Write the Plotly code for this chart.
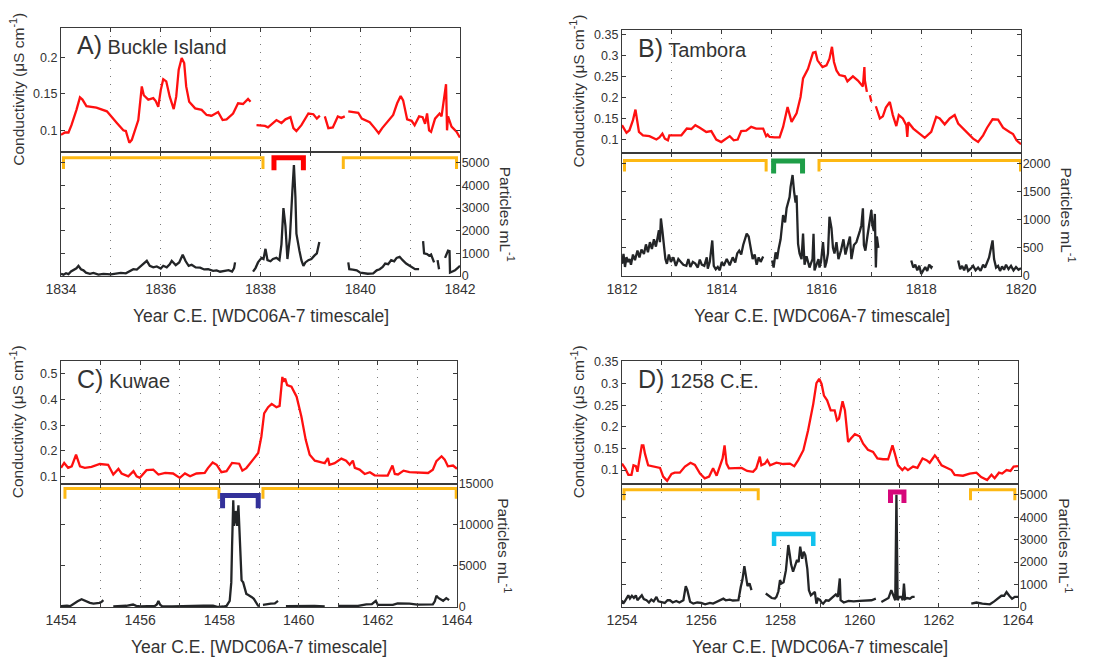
import plotly.graph_objects as go

# the page body adds an 8px margin; the figure is sized to fill the rest of the window
PAGE_OFF = 8
W, H = 1098 - PAGE_OFF, 660 - PAGE_OFF

# ---------------- DATA ----------------
# Panel A: Buckle Island
a_cond_year = [1834.0, 1834.08, 1834.15, 1834.21, 1834.31, 1834.38, 1834.43, 1834.51, 1834.71, 1834.92,
               1835.12, 1835.25, 1835.3, 1835.37, 1835.42, 1835.5, 1835.55, 1835.62, 1835.66, 1835.75,
               1835.85, 1835.9, 1835.95, 1836.0, 1836.05, 1836.11, 1836.18, 1836.26, 1836.31, 1836.36,
               1836.42, 1836.47, 1836.51, 1836.57, 1836.69, 1836.82, 1836.92, 1837.02, 1837.09, 1837.15,
               1837.24, 1837.32, 1837.45, 1837.55, 1837.65, 1837.75, 1837.8, 1837.86, 1837.92, 1838.09,
               1838.15, 1838.25, 1838.32, 1838.42, 1838.5, 1838.6, 1838.66, 1838.72, 1838.82, 1838.96,
               1839.06, 1839.13, 1839.19, 1839.24, 1839.29, 1839.36, 1839.45, 1839.49, 1839.55, 1839.62,
               1839.69, 1839.72, 1839.76, 1839.96, 1840.03, 1840.19, 1840.29, 1840.37, 1840.44, 1840.53,
               1840.66, 1840.74, 1840.81, 1840.86, 1840.94, 1841.03, 1841.09, 1841.18, 1841.25, 1841.3,
               1841.34, 1841.38, 1841.42, 1841.5, 1841.59, 1841.63, 1841.68, 1841.72, 1841.74, 1841.76,
               1841.83, 1841.93, 1842.0]
a_cond_val = [0.094, 0.097, 0.097, 0.107, 0.128, 0.145, 0.142, 0.133, 0.131, 0.126,
              0.110, 0.100, 0.099, 0.083, 0.087, 0.105, 0.114, 0.160, 0.148, 0.142,
              0.144, 0.140, 0.132, 0.155, 0.170, 0.167, 0.146, 0.129, 0.146, 0.183,
              0.199, 0.192, 0.160, 0.139, 0.130, 0.128, 0.121, 0.120, 0.123, 0.125,
              0.114, 0.115, 0.123, 0.137, 0.136, 0.143, 0.139, None, 0.107, 0.106,
              0.104, 0.110, 0.114, 0.110, 0.115, 0.118, 0.103, 0.099, 0.107, 0.123,
              0.122, 0.116, 0.120, None, 0.119, 0.103, 0.104, 0.111, 0.119, 0.117,
              0.119, None, 0.126, 0.124, 0.116, 0.111, 0.103, 0.096, 0.103, 0.111,
              0.121, 0.137, 0.147, 0.141, 0.115, 0.113, 0.107, 0.119, 0.118, 0.109,
              0.123, 0.100, 0.098, 0.116, 0.123, 0.119, 0.142, 0.163, 0.100, 0.119,
              0.105, 0.098, 0.090]
a_part_year = [1834.0, 1834.05, 1834.1, 1834.15, 1834.2, 1834.25, 1834.31, 1834.35, 1834.4, 1834.45,
               1834.5, 1834.58, 1834.65, 1834.75, 1834.85, 1835.0, 1835.1, 1835.2, 1835.3, 1835.38,
               1835.45, 1835.52, 1835.58, 1835.65, 1835.72, 1835.78, 1835.85, 1835.92, 1836.0, 1836.05,
               1836.12, 1836.18, 1836.22, 1836.3, 1836.37, 1836.44, 1836.5, 1836.56, 1836.62, 1836.7,
               1836.79, 1836.87, 1836.95, 1837.05, 1837.12, 1837.19, 1837.28, 1837.36, 1837.43, 1837.47,
               1837.49, 1837.52, 1837.85, 1837.9, 1837.95, 1838.02, 1838.06, 1838.1, 1838.14, 1838.2,
               1838.25, 1838.32, 1838.38, 1838.42, 1838.46, 1838.5, 1838.54, 1838.59, 1838.64, 1838.67,
               1838.7, 1838.72, 1838.78, 1838.82, 1838.86, 1838.9, 1838.96, 1839.02, 1839.08, 1839.13,
               1839.18, 1839.2, 1839.76, 1839.78, 1839.85, 1839.93, 1840.0, 1840.06, 1840.15, 1840.26,
               1840.33, 1840.39, 1840.45, 1840.5, 1840.56, 1840.62, 1840.68, 1840.73, 1840.79, 1840.85,
               1840.92, 1840.99, 1841.05, 1841.1, 1841.18, 1841.22, 1841.26, 1841.28, 1841.34, 1841.38,
               1841.42, 1841.48, 1841.5, 1841.55, 1841.58, 1841.62, 1841.7, 1841.76, 1841.79, 1841.8,
               1841.85, 1841.9, 1841.95, 1842.0]
a_part_val = [100, 60, 120, 80, 200, 250, 340, 450, 300, 250,
              150, 100, 140, 60, 90, 75, 110, 140, 120, 220,
              300, 280, 400, 500, 670, 450, 380, 420, 330, 450,
              380, 520, 670, 480, 600, 940, 650, 450, 500, 380,
              370, 290, 300, 230, 250, 190, 220, 260, 200, 350,
              600, None, 190, 350, 600, 800, 750, 1200, 700, 650,
              750, 800, 700, 1400, 3000, 2200, 750, 1700, 3800, 4900,
              3500, 1870, 1120, 700, 450, 600, 700, 750, 900, 1000,
              1500, None, 600, 300, 280, 250, 150, 140, 100, 120,
              250, 300, 400, 550, 520, 700, 650, 800, 850, 700,
              550, 450, 350, 300, 300, None, 1540, 1000, 970, 900,
              950, 600, None, 700, 300, None, 800, 1120, 1100, 150,
              200, 250, 350, 450]
a_br_start = [1834.05, 1838.27, 1839.66]
a_br_end = [1838.05, 1838.86, 1841.93]
a_br_top = [5225, 5225, 5225]
a_br_base = [4730, 4670, 4730]

# Panel B: Tambora
b_cond_year = [1812.0, 1812.09, 1812.15, 1812.22, 1812.27, 1812.3, 1812.34, 1812.42, 1812.55, 1812.69,
               1812.75, 1812.81, 1812.86, 1812.92, 1812.95, 1813.19, 1813.3, 1813.39, 1813.47, 1813.56,
               1813.69, 1813.79, 1813.89, 1813.99, 1814.16, 1814.24, 1814.32, 1814.39, 1814.49, 1814.59,
               1814.69, 1814.83, 1814.89, 1814.92, 1814.96, 1815.06, 1815.16, 1815.23, 1815.32, 1815.4,
               1815.5, 1815.58, 1815.63, 1815.73, 1815.83, 1815.88, 1815.92, 1816.02, 1816.1, 1816.16,
               1816.21, 1816.25, 1816.3, 1816.36, 1816.47, 1816.52, 1816.63, 1816.73, 1816.83, 1816.86,
               1816.87, 1816.91, 1816.94, 1816.97, 1817.0, 1817.05, 1817.09, 1817.17, 1817.23, 1817.29,
               1817.37, 1817.43, 1817.5, 1817.55, 1817.63, 1817.7, 1817.72, 1817.74, 1817.84, 1817.97,
               1818.07, 1818.2, 1818.3, 1818.37, 1818.47, 1818.57, 1818.67, 1818.74, 1818.9, 1819.04,
               1819.14, 1819.24, 1819.32, 1819.43, 1819.54, 1819.64, 1819.77, 1819.84, 1819.91, 1820.0]
b_cond_val = [0.134, 0.116, 0.122, 0.146, 0.171, 0.146, 0.118, 0.110, 0.108, 0.100,
              0.105, 0.114, 0.102, 0.098, 0.110, 0.110, 0.126, 0.125, 0.134, 0.128,
              0.118, 0.120, 0.100, 0.094, 0.108, 0.098, 0.100, 0.120, 0.121, 0.130,
              0.126, 0.126, 0.108, 0.112, 0.106, 0.105, 0.105, 0.130, 0.177, 0.142,
              0.162, 0.201, 0.245, 0.268, 0.306, 0.308, 0.288, 0.272, 0.276, 0.292,
              0.320, 0.284, 0.264, 0.253, 0.250, 0.238, 0.250, 0.240, 0.226, 0.272,
              0.240, 0.213, None, 0.205, 0.190, None, 0.179, 0.150, 0.155, 0.176,
              0.189, 0.158, 0.132, 0.158, 0.150, 0.134, 0.106, 0.141, 0.126, 0.114,
              0.104, 0.118, 0.154, 0.150, 0.136, 0.150, 0.158, 0.138, 0.120, 0.102,
              0.094, 0.110, 0.128, 0.148, 0.147, 0.128, 0.118, 0.113, 0.098, 0.089]
b_part_year = [1812.0, 1812.03, 1812.06, 1812.09, 1812.12, 1812.15, 1812.18, 1812.22, 1812.26, 1812.31,
               1812.35, 1812.39, 1812.44, 1812.48, 1812.52, 1812.56, 1812.6, 1812.64, 1812.68, 1812.72,
               1812.74, 1812.76, 1812.78, 1812.81, 1812.84, 1812.87, 1812.9, 1812.94, 1812.98, 1813.03,
               1813.08, 1813.13, 1813.18, 1813.23, 1813.29, 1813.33, 1813.37, 1813.42, 1813.47, 1813.52,
               1813.56, 1813.6, 1813.65, 1813.7, 1813.72, 1813.76, 1813.81, 1813.84, 1813.88, 1813.92,
               1813.96, 1814.0, 1814.04, 1814.1, 1814.16, 1814.22, 1814.27, 1814.31, 1814.35, 1814.39,
               1814.43, 1814.47, 1814.5, 1814.54, 1814.58, 1814.62, 1814.66, 1814.7, 1814.74, 1814.78,
               1814.83, 1814.85, 1815.01, 1815.04, 1815.08, 1815.11, 1815.14, 1815.18, 1815.23, 1815.27,
               1815.3, 1815.33, 1815.36, 1815.38, 1815.42, 1815.45, 1815.48, 1815.5, 1815.53, 1815.56,
               1815.6, 1815.63, 1815.66, 1815.7, 1815.73, 1815.76, 1815.78, 1815.82, 1815.84, 1815.86,
               1815.9, 1815.94, 1815.96, 1815.99, 1816.03, 1816.07, 1816.1, 1816.13, 1816.16, 1816.2,
               1816.23, 1816.26, 1816.3, 1816.34, 1816.39, 1816.44, 1816.48, 1816.53, 1816.57, 1816.6,
               1816.65, 1816.7, 1816.74, 1816.77, 1816.8, 1816.83, 1816.85, 1816.88, 1816.92, 1816.95,
               1816.98, 1817.0, 1817.02, 1817.05, 1817.07, 1817.09, 1817.11, 1817.14, 1817.16, 1817.8,
               1817.84, 1817.88, 1817.92, 1817.96, 1818.0, 1818.04, 1818.08, 1818.12, 1818.16, 1818.2,
               1818.22, 1818.25, 1818.74, 1818.78, 1818.82, 1818.86, 1818.9, 1818.94, 1818.99, 1819.04,
               1819.09, 1819.14, 1819.19, 1819.24, 1819.28, 1819.32, 1819.36, 1819.4, 1819.43, 1819.46,
               1819.5, 1819.54, 1819.58, 1819.62, 1819.66, 1819.7, 1819.75, 1819.8, 1819.85, 1819.9,
               1819.95, 1820.0]
b_part_val = [215, 390, 160, 333, 250, 300, 200, 380, 280, 450,
              330, 470, 390, 560, 420, 600, 480, 650, 520, 700,
              810, 600, 1020, 800, 500, 300, 215, 380, 250, 330,
              180, 300, 250, 200, 180, 300, 160, 250, 220, 150,
              290, 200, 180, 330, 130, 250, 630, 180, 120, 160,
              100, 250, 180, 300, 190, 330, 240, 400, 450, 380,
              550, 650, 750, 700, 520, 300, 380, 200, 330, 250,
              345, None, 275, 150, 420, 300, 480, 650, 1080, 950,
              1200, 1290, 1400, 1580, 1790, 1500, 1300, 1430, 570, 400,
              300, 750, 200, 350, 250, 150, 200, 300, 750, 100,
              200, 300, 150, 250, 600, 150, 250, 400, 1050, 850,
              500, 400, 600, 300, 450, 650, 380, 550, 700, 300,
              550, 600, 700, 800, 900, 1200, 550, 450, 700, 850,
              1000, 1170, 900, 800, 1100, 150, 700, 500, None, 275,
              150, 200, 100, 180, 35, 100, 160, 90, 200, 150,
              180, None, 275, 120, 180, 100, 200, 90, 130, 180,
              100, 150, 90, 200, 150, 250, 330, 500, 630, 300,
              150, 180, 90, 170, 110, 200, 120, 180, 100, 160,
              110, 140]
b_br_start = [1812.05, 1815.04, 1815.95]
b_br_end = [1814.89, 1815.62, 1819.99]
b_br_top = [2047, 2040, 2047]
b_br_base = [1850, 1815, 1850]

# Panel C: Kuwae
c_cond_year = [1454.0, 1454.08, 1454.18, 1454.27, 1454.38, 1454.48, 1454.6, 1454.77, 1454.98, 1455.19,
               1455.32, 1455.45, 1455.53, 1455.7, 1455.83, 1455.91, 1455.99, 1456.16, 1456.33, 1456.46,
               1456.63, 1456.83, 1457.0, 1457.13, 1457.26, 1457.42, 1457.63, 1457.71, 1457.83, 1457.93,
               1458.05, 1458.18, 1458.32, 1458.5, 1458.58, 1458.68, 1458.85, 1458.98, 1459.06, 1459.13,
               1459.23, 1459.32, 1459.44, 1459.52, 1459.59, 1459.62, 1459.66, 1459.71, 1459.82, 1459.95,
               1460.07, 1460.18, 1460.28, 1460.41, 1460.58, 1460.66, 1460.74, 1460.78, 1460.91, 1461.08,
               1461.2, 1461.29, 1461.37, 1461.42, 1461.54, 1461.67, 1461.8, 1461.92, 1462.13, 1462.25,
               1462.37, 1462.43, 1462.51, 1462.65, 1462.8, 1463.06, 1463.27, 1463.39, 1463.48, 1463.61,
               1463.69, 1463.77, 1463.9, 1464.0]
c_cond_val = [0.134, 0.153, 0.134, 0.140, 0.185, 0.140, 0.134, 0.138, 0.149, 0.146,
              0.108, 0.130, 0.112, 0.101, 0.121, 0.101, 0.095, 0.125, 0.127, 0.108,
              0.114, 0.112, 0.095, 0.112, 0.101, 0.112, 0.114, 0.133, 0.155, 0.146,
              0.117, 0.121, 0.153, 0.150, 0.123, 0.133, 0.166, 0.192, 0.256, 0.346,
              0.370, 0.383, 0.370, 0.375, 0.488, 0.469, 0.482, 0.456, 0.450, 0.411,
              0.334, 0.243, 0.185, 0.162, 0.155, 0.152, 0.172, 0.146, 0.152, 0.170,
              0.162, 0.146, 0.162, 0.134, 0.127, 0.110, 0.117, 0.105, 0.104, 0.104,
              0.143, 0.110, 0.108, 0.123, 0.117, 0.114, 0.114, 0.127, 0.160, 0.179,
              0.166, 0.140, 0.143, 0.130]
c_part_year = [1454.0, 1454.06, 1454.15, 1454.23, 1454.3, 1454.35, 1454.42, 1454.52, 1454.58, 1454.65,
               1454.73, 1454.82, 1454.9, 1454.97, 1455.02, 1455.07, 1455.1, 1455.32, 1455.5, 1455.65,
               1455.82, 1455.9, 1456.0, 1456.2, 1456.37, 1456.42, 1456.46, 1456.5, 1456.55, 1456.8,
               1457.0, 1457.17, 1457.4, 1457.6, 1457.84, 1457.97, 1458.1, 1458.18, 1458.26, 1458.3,
               1458.32, 1458.35, 1458.37, 1458.39, 1458.41, 1458.45, 1458.48, 1458.52, 1458.56, 1458.6,
               1458.64, 1458.68, 1458.72, 1458.77, 1458.82, 1458.87, 1458.92, 1458.97, 1459.0, 1459.03,
               1459.1, 1459.2, 1459.3, 1459.4, 1459.48, 1459.5, 1459.68, 1459.9, 1460.1, 1460.4,
               1460.66, 1460.7, 1461.02, 1461.3, 1461.5, 1461.71, 1461.85, 1461.95, 1462.0, 1462.2,
               1462.38, 1462.5, 1462.8, 1463.0, 1463.2, 1463.39, 1463.44, 1463.48, 1463.53, 1463.6,
               1463.65, 1463.7, 1463.73, 1463.8]
c_part_val = [100, 125, 150, 100, 350, 540, 700, 950, 800, 650,
              500, 420, 450, 500, 600, 830, None, 60, 120, 150,
              300, 150, 80, 100, 120, 300, 750, 300, 100, 80,
              120, 120, 170, 150, 170, 0, 60, 125, 750, 3000,
              7400, 13000, 9900, 10500, 11700, 9900, 12400, 8200, 3240, 3000,
              2400, 1600, 1500, 1370, 1200, 1000, 540, 200, 80, None,
              250, 350, 400, 450, 750, None, 100, 120, 80, 120,
              80, None, 120, 100, 130, 330, 350, 750, 250, 250,
              250, 450, 420, 300, 290, 330, 700, 1370, 1100, 900,
              750, 950, 1080, 830]
c_br_start = [1454.1, 1458.08, 1459.1]
c_br_end = [1457.99, 1458.98, 1463.98]
c_br_top = [14440, 13600, 14440]
c_br_base = [13200, 12035, 13200]

# Panel D: 1258 C.E.
d_cond_year = [1254.0, 1254.08, 1254.16, 1254.24, 1254.29, 1254.35, 1254.39, 1254.44, 1254.5, 1254.54,
               1254.58, 1254.66, 1254.79, 1254.87, 1254.96, 1255.04, 1255.14, 1255.25, 1255.33, 1255.46,
               1255.59, 1255.73, 1255.84, 1255.97, 1256.09, 1256.2, 1256.3, 1256.39, 1256.47, 1256.54,
               1256.59, 1256.64, 1256.7, 1256.89, 1257.02, 1257.16, 1257.31, 1257.39, 1257.48, 1257.52,
               1257.61, 1257.67, 1257.74, 1257.9, 1258.07, 1258.24, 1258.35, 1258.45, 1258.58, 1258.7,
               1258.83, 1258.91, 1258.98, 1259.04, 1259.1, 1259.18, 1259.27, 1259.37, 1259.43, 1259.48,
               1259.57, 1259.63, 1259.71, 1259.78, 1259.88, 1260.0, 1260.09, 1260.21, 1260.34, 1260.45,
               1260.59, 1260.72, 1260.78, 1260.83, 1260.89, 1260.97, 1261.08, 1261.14, 1261.22, 1261.35,
               1261.46, 1261.59, 1261.69, 1261.77, 1261.9, 1261.97, 1262.07, 1262.2, 1262.32, 1262.4,
               1262.61, 1262.78, 1262.95, 1263.07, 1263.22, 1263.33, 1263.41, 1263.52, 1263.6, 1263.71,
               1263.81, 1263.89, 1264.0]
d_cond_val = [0.115, 0.104, 0.089, 0.089, 0.111, 0.109, 0.096, 0.127, 0.157, 0.157,
              0.138, 0.111, 0.109, 0.106, 0.105, 0.085, 0.075, 0.091, 0.094, 0.094,
              0.108, 0.117, 0.112, 0.092, 0.081, 0.085, 0.104, 0.087, 0.108, 0.127,
              0.157, 0.115, 0.104, 0.104, 0.105, 0.098, 0.096, 0.104, 0.131, 0.111,
              0.115, 0.123, 0.111, 0.117, 0.114, 0.115, 0.109, 0.123, 0.146, 0.192,
              0.253, 0.301, 0.311, 0.299, 0.272, 0.261, 0.238, 0.238, 0.215, 0.219,
              0.259, 0.238, 0.165, 0.173, 0.183, 0.178, 0.161, 0.147, 0.142, 0.127,
              0.125, 0.125, 0.146, 0.157, 0.138, 0.111, 0.100, 0.106, 0.100, 0.108,
              0.105, 0.127, 0.123, 0.117, 0.134, 0.126, 0.111, 0.106, 0.100, 0.089,
              0.087, 0.092, 0.094, 0.084, 0.077, 0.089, 0.081, 0.094, 0.092, 0.100,
              0.098, 0.108, 0.109]
d_part_year = [1254.0, 1254.03, 1254.07, 1254.12, 1254.16, 1254.2, 1254.25, 1254.3, 1254.35, 1254.39,
               1254.44, 1254.5, 1254.55, 1254.62, 1254.68, 1254.74, 1254.8, 1254.87, 1254.92, 1255.0,
               1255.08, 1255.15, 1255.21, 1255.28, 1255.37, 1255.45, 1255.55, 1255.61, 1255.65, 1255.72,
               1255.8, 1255.9, 1256.0, 1256.1, 1256.22, 1256.3, 1256.4, 1256.5, 1256.56, 1256.62,
               1256.72, 1256.8, 1256.94, 1257.0, 1257.04, 1257.09, 1257.13, 1257.17, 1257.22, 1257.27,
               1257.29, 1257.63, 1257.7, 1257.78, 1257.86, 1257.9, 1257.95, 1257.99, 1258.03, 1258.08,
               1258.14, 1258.2, 1258.24, 1258.27, 1258.32, 1258.37, 1258.42, 1258.46, 1258.5, 1258.55,
               1258.59, 1258.63, 1258.66, 1258.68, 1258.72, 1258.77, 1258.82, 1258.87, 1258.91, 1258.95,
               1259.0, 1259.04, 1259.08, 1259.15, 1259.22, 1259.33, 1259.4, 1259.45, 1259.5, 1259.52,
               1259.6, 1259.72, 1259.85, 1260.0, 1260.17, 1260.3, 1260.41, 1260.45, 1260.55, 1260.65,
               1260.73, 1260.8, 1260.85, 1260.9, 1260.93, 1260.96, 1261.0, 1261.05, 1261.09, 1261.12,
               1261.15, 1261.2, 1261.27, 1261.33, 1261.39, 1261.42, 1262.82, 1262.95, 1263.1, 1263.29,
               1263.4, 1263.5, 1263.58, 1263.65, 1263.71, 1263.78, 1263.85, 1263.92, 1264.0]
d_part_val = [300, 150, 250, 400, 520, 380, 500, 400, 520, 300,
              420, 520, 350, 300, 200, 330, 250, 450, 250, 230,
              180, 300, 300, 200, 270, 200, 300, 930, 750, 230,
              150, 200, 180, 120, 180, 150, 230, 300, 370, 300,
              330, 290, 300, 900, 1200, 1820, 1300, 930, 1050, 750,
              None, 600, 500, 400, 375, 450, 700, 1200, 1050, 1100,
              1640, 2760, 2300, 1900, 1570, 1800, 2100, 2000, 2690, 2150,
              2460, 2300, 1900, 1700, 750, 520, 600, 670, 150, 370,
              320, 200, 150, 300, 280, 480, 560, 450, 1270, 300,
              200, 270, 250, 270, 270, 300, 370, None, 220, 300,
              400, 750, 500, 300, 5000, 300, 450, 450, 300, 1045,
              350, 400, 370, 450, 450, None, 150, 200, 150, 120,
              250, 370, 500, 500, 670, 500, 370, 450, 450]
d_br_start = [1254.05, 1257.84, 1260.78, 1262.8]
d_br_end = [1257.44, 1258.83, 1261.12, 1263.92]
d_br_top = [5225, 3255, 5120, 5225]
d_br_base = [4750, 2720, 4630, 4750]

# Tick labels
a_cond_ticks = [0.1, 0.15, 0.2]
b_cond_ticks = [0.1, 0.15, 0.2, 0.25, 0.3, 0.35]
c_cond_ticks = [0.1, 0.2, 0.3, 0.4, 0.5]
d_cond_ticks = [0.1, 0.15, 0.2, 0.25, 0.3, 0.35]
a_part_ticks = [0, 1000, 2000, 3000, 4000, 5000]
b_part_ticks = [0, 500, 1000, 1500, 2000]
c_part_ticks = [0, 5000, 10000, 15000]
d_part_ticks = [0, 1000, 2000, 3000, 4000, 5000]

panel_letters = ["A)", "B)", "C)", "D)"]
panel_names = ["Buckle Island", "Tambora", "Kuwae", "1258 C.E."]
x_title = "Year C.E. [WDC06A-7 timescale]"
cond_title = "Conductivity (μS cm<sup>-1</sup>)"
part_title = "Particles mL<sup>-1</sup>"

# ---------------- STYLE / LAYOUT ----------------
ORANGE = "#FDB813"
bracket_colors = [
    [ORANGE, "#FF0000", ORANGE],
    [ORANGE, "#1E9E48", ORANGE],
    [ORANGE, "#33319A", ORANGE],
    [ORANGE, "#11C2EE", "#D6077A", ORANGE],
]
bracket_widths = [
    [3, 5, 3],
    [3, 5, 3],
    [3, 5, 3],
    [3, 4.5, 5, 3],
]
# pixel boxes in window coordinates: x0, x1, cond_top, divider, part_bottom
boxes = [
    (61, 460, 28, 151.5, 276),
    (622, 1021, 30, 153, 276),
    (61, 457, 361, 483.5, 607),
    (622, 1018, 361, 483.5, 607),
]
x_ranges = [(1834, 1842), (1812, 1820), (1454, 1464), (1254, 1264)]
cond_ranges = [(0.071, 0.24), (0.068, 0.36), (0.073, 0.55), (0.069, 0.352)]
part_ranges = [(0, 5500), (0, 2180), (0, 15050), (0, 5500)]

cond_data = [(a_cond_year, a_cond_val), (b_cond_year, b_cond_val),
             (c_cond_year, c_cond_val), (d_cond_year, d_cond_val)]
part_data = [(a_part_year, a_part_val), (b_part_year, b_part_val),
             (c_part_year, c_part_val), (d_part_year, d_part_val)]
brackets = [(a_br_start, a_br_end, a_br_top, a_br_base),
            (b_br_start, b_br_end, b_br_top, b_br_base),
            (c_br_start, c_br_end, c_br_top, c_br_base),
            (d_br_start, d_br_end, d_br_top, d_br_base)]
cond_ticks = [a_cond_ticks, b_cond_ticks, c_cond_ticks, d_cond_ticks]
part_ticks = [a_part_ticks, b_part_ticks, c_part_ticks, d_part_ticks]

FONT = "Liberation Sans, Arial, Helvetica, sans-serif"
TXT = "#333333"
AXC = "#3a3a3a"
LW = 1.3
GRID = dict(showgrid=True, gridcolor="#7a7a7a", gridwidth=1, griddash="1px,7px")


def px(xp):
    return (xp - PAGE_OFF) / W


def py(yp):
    return 1 - (yp - PAGE_OFF) / H


fig = go.Figure()
layout = dict(
    template="none",
    width=W, height=H, margin=dict(l=0, r=0, t=0, b=0, pad=0, autoexpand=False),
    paper_bgcolor="white", plot_bgcolor="rgba(0,0,0,0)",
    showlegend=False, font=dict(family=FONT, color=TXT),
)
annotations = []

for i in range(4):
    ci, pi = 2 * i + 1, 2 * i + 2
    xc_name = "x" if ci == 1 else f"x{ci}"
    yc_name = "y" if ci == 1 else f"y{ci}"
    xp_name, yp_name = f"x{pi}", f"y{pi}"
    x0, x1, top, mid, bot = boxes[i]
    xr = x_ranges[i]
    years = list(range(xr[0], xr[1] + 1))
    major = [y for y in years if (y - xr[0]) % 2 == 0]
    minor_years = [y for y in years if (y - xr[0]) % 2 == 1]

    common_x = dict(
        domain=[px(x0), px(x1)], range=list(xr), tickmode="array", tickvals=major,
        ticktext=[str(y) for y in major],
        ticks="inside", ticklen=4, tickwidth=1, tickcolor=AXC,
        showline=True, linecolor=AXC, linewidth=LW, mirror="ticks",
        zeroline=False, fixedrange=True, automargin=False,
        minor=dict(tickmode="array", tickvals=minor_years, ticks="inside", ticklen=4,
                   tickwidth=1, tickcolor=AXC, **GRID),
        **GRID,
    )
    layout["xaxis" if ci == 1 else f"xaxis{ci}"] = dict(
        common_x, anchor=yc_name, showticklabels=False)
    layout[f"xaxis{pi}"] = dict(
        common_x, anchor=yp_name, showticklabels=True, ticklabelstandoff=0,
        tickfont=dict(size=14, color=TXT, family=FONT))

    ct = cond_ticks[i]
    layout["yaxis" if ci == 1 else f"yaxis{ci}"] = dict(
        domain=[py(mid), py(top)], range=list(cond_ranges[i]), anchor=xc_name,
        side="left", tickmode="array", tickvals=ct, ticktext=["%g" % v for v in ct],
        ticks="inside", ticklen=4, tickcolor=AXC, showline=True, linecolor=AXC,
        linewidth=LW, mirror="ticks", showgrid=False, zeroline=False, automargin=False,
        tickfont=dict(size=12.5, color=TXT, family=FONT), fixedrange=True,
    )
    pt = part_ticks[i]
    layout[f"yaxis{pi}"] = dict(
        domain=[py(bot), py(mid)], range=list(part_ranges[i]), anchor=xp_name,
        side="right", tickmode="array", tickvals=pt, ticktext=[str(v) for v in pt],
        ticks="inside", ticklen=4, tickcolor=AXC, showline=True, linecolor=AXC,
        linewidth=LW, mirror="ticks", showgrid=False, zeroline=False, automargin=False,
        ticklabelstandoff=-2,
        tickfont=dict(size=12.5, color=TXT, family=FONT), fixedrange=True,
    )

    cy, cv = cond_data[i]
    fig.add_trace(go.Scatter(x=cy, y=cv, mode="lines", xaxis=xc_name, yaxis=yc_name,
                             line=dict(color="#FF1010", width=2.3), connectgaps=False,
                             hoverinfo="skip"))
    pyr, pv = part_data[i]
    fig.add_trace(go.Scatter(x=pyr, y=pv, mode="lines", xaxis=xp_name, yaxis=yp_name,
                             line=dict(color="#232527", width=2.3), connectgaps=False,
                             hoverinfo="skip"))
    bs, be, bt, bb = brackets[i]
    for k in range(len(bs)):
        fig.add_trace(go.Scatter(
            x=[bs[k], bs[k], be[k], be[k]], y=[bb[k], bt[k], bt[k], bb[k]],
            mode="lines", xaxis=xp_name, yaxis=yp_name, hoverinfo="skip",
            line=dict(color=bracket_colors[i][k], width=bracket_widths[i][k])))

    # panel label
    annotations.append(dict(
        xref="paper", yref="paper", x=px(x0 + 14), y=py(top + 17.5),
        xanchor="left", yanchor="middle", showarrow=False,
        text=f"<span style='font-size:25px'>{panel_letters[i]}</span> {panel_names[i]}",
        font=dict(size=20, color=TXT, family=FONT)))
    # conductivity title
    annotations.append(dict(
        xref="paper", yref="paper", x=px(x0 - 44), y=py((top + mid) / 2),
        xanchor="center", yanchor="middle", showarrow=False, textangle=-90,
        text=cond_title, font=dict(size=15.5, color=TXT, family=FONT)))
    # particles title
    annotations.append(dict(
        xref="paper", yref="paper", x=px(x1 + 47), y=py((mid + bot) / 2),
        xanchor="center", yanchor="middle", showarrow=False, textangle=90,
        text=part_title, font=dict(size=15.5, color=TXT, family=FONT)))
    # x title
    annotations.append(dict(
        xref="paper", yref="paper", x=px((x0 + x1) / 2), y=py(bot + 40),
        xanchor="center", yanchor="middle", showarrow=False,
        text=x_title, font=dict(size=17.5, color=TXT, family=FONT)))

layout["annotations"] = annotations
fig.update_layout(**layout)
fig.write_html("out.html")
